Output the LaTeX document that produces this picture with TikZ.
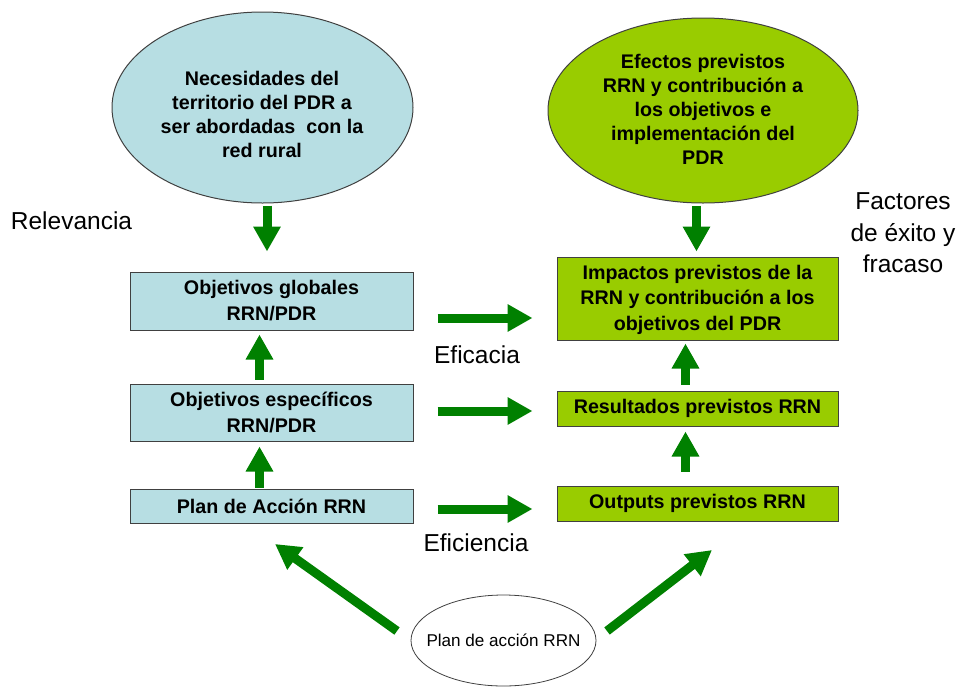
\documentclass[tikz,border=0pt]{standalone}
\usepackage{fontspec}
\setmainfont{Liberation Sans}
\usetikzlibrary{shapes.geometric,arrows.meta}
\definecolor{boxblue}{HTML}{B7DEE3}
\definecolor{boxgreen}{HTML}{99CC00}
\definecolor{arrgreen}{HTML}{008000}
\begin{document}
\begin{tikzpicture}[x=1pt,y=-1pt,
  bluebox/.style={draw=black!75, fill=boxblue, line width=1pt, inner sep=0pt, align=center, minimum width=283pt, font=\bfseries\fontsize{19.7}{26}\selectfont},
  greenbox/.style={draw=black!75, fill=boxgreen, line width=1pt, inner sep=0pt, align=center, minimum width=281pt, font=\bfseries\fontsize{19.7}{25.5}\selectfont},
  ell/.style={ellipse, draw=black!75, line width=1pt, inner sep=0pt},
  elltext/.style={align=center, inner sep=0pt, font=\bfseries\fontsize{19.7}{24}\selectfont},
  lbl/.style={align=center, inner sep=0pt, font=\fontsize{24.5}{31.5}\selectfont},
  garrow/.style={draw=arrgreen, line width=9pt, -{Triangle[width=26pt,length=25pt]}}
]
\useasboundingbox (0,0) rectangle (961,686);
% ellipses
\node[ell, fill=boxblue, minimum width=301pt, minimum height=191pt] (e1) at (262.5,107.5) {};
\node[elltext] (e1t) at (262,114) {Necesidades del\\territorio del PDR a\\ser abordadas\ \ con la\\red rural};
\node[ell, fill=boxgreen, minimum width=310pt, minimum height=185pt] (e2) at (703,110.5) {};
\node[elltext] (e2t) at (703,109.5) {Efectos previstos\\RRN y contribución a\\los objetivos e\\implementación del\\PDR};
\node[ell, fill=white, minimum width=185pt, minimum height=91pt, line width=0.8pt] (pe) at (503.5,640.5) {};
\node[inner sep=0pt, font=\fontsize{17.1}{20}\selectfont] (pet) at (pe.center) {Plan de acción RRN};
% left boxes
\node[bluebox, minimum height=58pt] (L1) at (271.5,301) {Objetivos globales\\RRN/PDR};
\node[bluebox, minimum height=57pt] (L2) at (271.5,412.5) {Objetivos específicos\\RRN/PDR};
\node[bluebox, minimum height=34pt] (L3) at (271.5,506) {Plan de Acción RRN};
% right boxes
\node[greenbox, minimum height=83pt] (R1) at (697.5,298.5) {\rule{0pt}{17pt}Impactos previstos de la\\RRN y contribución a los\\objetivos del PDR};
\node[greenbox, minimum height=35pt] (R2) at (697.5,408.5) {Resultados previstos RRN};
\node[greenbox, minimum height=35pt] (R3) at (697.5,503.5) {Outputs previstos RRN};
% labels
\node[lbl] (rel) at (71.5,221) {Relevancia};
\node[lbl] (efa) at (477,355) {Eficacia};
\node[lbl] (efi) at (476,543) {Eficiencia};
\node[lbl] (fac) at (903,233) {Factores\\de éxito y\\fracaso};
% vertical arrows
\draw[garrow, shorten <=2pt, shorten >=20pt] ([xshift=4.5pt]e1.south) -- ([xshift=-4.5pt]L1.north);
\draw[garrow, shorten <=2pt, shorten >=5pt] ([xshift=-6.5pt]e2.south) -- ([xshift=-1pt]R1.north);
\draw[garrow, shorten <=4pt, shorten >=4pt] ([xshift=-12pt]L2.north) -- ([xshift=-12pt]L1.south);
\draw[garrow, shorten <=1pt, shorten >=5pt] ([xshift=-12pt]L3.north) -- ([xshift=-12pt]L2.south);
\draw[garrow, shorten <=6pt, shorten >=3pt] ([xshift=-12pt]R2.north) -- ([xshift=-12pt]R1.south);
\draw[garrow, shorten <=14pt, shorten >=5pt] ([xshift=-12pt]R3.north) -- ([xshift=-12pt]R2.south);
% horizontal arrows
\draw[garrow, shorten <=24pt, shorten >=24pt] ([yshift=-17pt]L1.east) -- ([yshift=-19.5pt]R1.west);
\draw[garrow, shorten <=24pt, shorten >=24pt] ([yshift=1.5pt]L2.east) -- ([yshift=-2.5pt]R2.west);
\draw[garrow, shorten <=24pt, shorten >=24pt] ([yshift=-3pt]L3.east) -- ([yshift=-5.5pt]R3.west);
% diagonal arrows
\coordinate (dl0) at (397,631);
\coordinate (dl1) at (275,544);
\coordinate (dr0) at (607,631);
\coordinate (dr1) at (712,550);
\draw[garrow] (dl0) -- (dl1);
\draw[garrow] (dr0) -- (dr1);
\end{tikzpicture}
\end{document}
